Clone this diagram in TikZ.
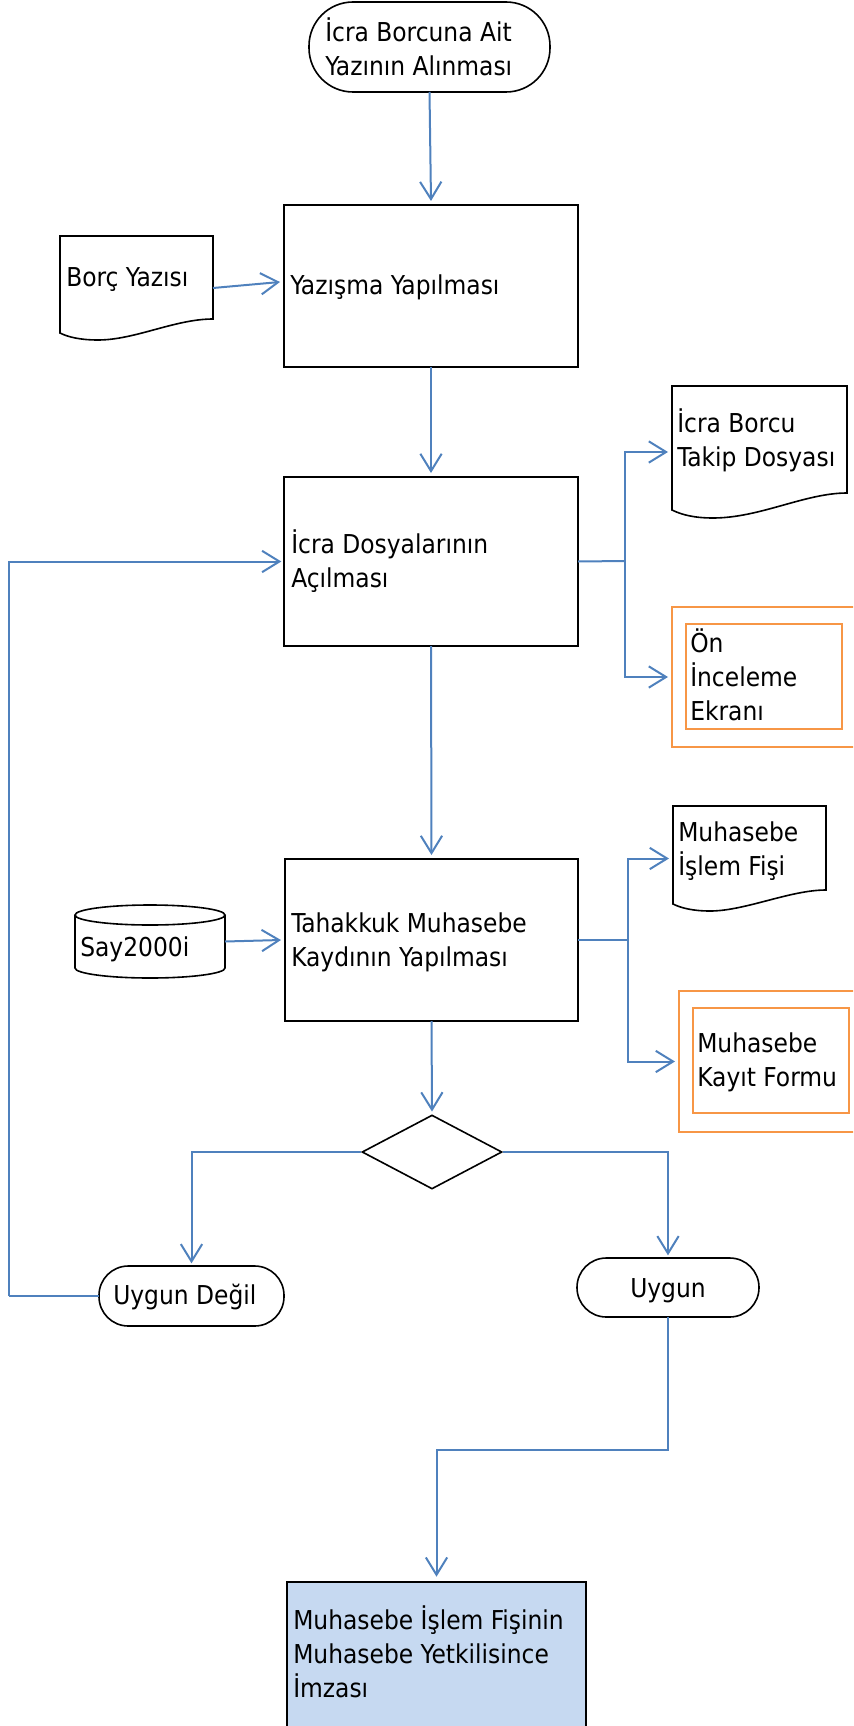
\documentclass[tikz,border=0pt]{standalone}
\usepackage{fontspec}
\setmainfont{DejaVu Sans Condensed}
\usetikzlibrary{arrows.meta,fit,shapes.geometric}
\definecolor{flowblue}{HTML}{4F81BD}
\definecolor{frameorange}{HTML}{F79646}
\definecolor{finfill}{HTML}{C6D9F1}
\begin{document}
\begin{tikzpicture}[x=0.75pt,y=-0.75pt,
  font=\fontsize{19.5pt}{25.5pt}\selectfont,
  box/.style={draw=black, line width=1.2pt, inner sep=0pt, outer sep=0pt},
  hold/.style={inner sep=0pt, outer sep=0pt},
  frame/.style={draw=frameorange, line width=0.9pt},
  docline/.style={draw=black, line width=1.2pt},
  link/.style={draw=flowblue, line width=1.5pt},
  conn/.style={draw=flowblue, line width=1.5pt, -{Straight Barb[length=13pt,width=16pt]}},
  txt/.style={inner sep=0pt, anchor=base west, align=left}]
\useasboundingbox (0,0) rectangle (853,1726);
\clip (0,0) rectangle (853,1726);

% start terminator
\node[box, rounded corners=33pt, fit={(309,2) (550,92)}] (start) {};
\node[txt] (startt) at (325,76) {İcra Borcuna Ait\\Yazının Alınması};

% Yazisma
\node[box, fit={(284,205) (578,367)}] (yaz) {};
\node[txt] (yazt) at (290,295) {Yazışma Yapılması};

% Borc Yazisi document
\draw[docline] (60,236) -- (213,236) -- (213,319) .. controls (175,319) and (135,340) .. (98,340) .. controls (80,340) and (68,337) .. (60,333) -- cycle;
\node[hold, fit={(60,236) (213,340)}] (borc) {};
\node[txt] (borct) at (66,287) {Borç Yazısı};

% Icra dosyalari
\node[box, fit={(284,477) (578,646)}] (icra) {};
\node[txt] (icrat) at (291,587) {İcra Dosyalarının\\Açılması};

% Icra Borcu Takip Dosyasi document
\draw[docline] (672,386) -- (847,386) -- (847,493) .. controls (805,493) and (760,518) .. (713,518) .. controls (695,518) and (682,515) .. (672,510) -- cycle;
\node[hold, fit={(672,386) (847,518)}] (ibd) {};
\node[txt] (ibdt) at (677,466) {İcra Borcu\\Takip Dosyası};

% On Inceleme Ekrani
\node[hold, fit={(672,607) (872,747)}, frame, draw] (onf) {};
\draw[frame] (686,624) rectangle (842,729);
\node[txt] (onft) at (690,720) {Ön\\İnceleme\\Ekranı};

% Tahakkuk
\node[box, fit={(285,859) (578,1021)}] (tah) {};
\node[txt] (taht) at (291,966) {Tahakkuk Muhasebe\\Kaydının Yapılması};

% Say2000i cylinder
\draw[docline] (75,915) -- (75,968) arc[start angle=180, end angle=0, x radius=75, y radius=10] -- (225,915);
\draw[docline] (150,915) ellipse [x radius=75, y radius=10];
\node[hold, fit={(75,905) (225,978)}] (say) {};
\node[txt] (sayt) at (80,956) {Say2000i};

% Muhasebe Islem Fisi document
\draw[docline] (673,806) -- (826,806) -- (826,890) .. controls (790,890) and (745,911) .. (710,911) .. controls (693,911) and (681,908) .. (673,904) -- cycle;
\node[hold, fit={(673,806) (826,911)}] (isl) {};
\node[txt] (islt) at (678,875) {Muhasebe\\İşlem Fişi};

% Muhasebe Kayit Formu
\node[hold, fit={(679,991) (872,1132)}, frame, draw] (kay) {};
\draw[frame] (693,1008) rectangle (849,1113);
\node[txt] (kayt) at (697,1086) {Muhasebe\\Kayıt Formu};

% decision
\node[draw=black, line width=1.2pt, diamond, aspect=1.9, inner sep=0pt, minimum width=105pt, minimum height=55.5pt] (dia) at (432,1152) {};

% Uygun Degil / Uygun
\node[box, rounded corners=22pt, fit={(99,1266) (284,1326)}] (ud) {};
\node[txt] (udt) at (113,1304) {Uygun Değil};
\node[box, rounded corners=22pt, fit={(577,1258) (759,1317)}] (u) {};
\node[inner sep=0pt, anchor=base] (ut) at (668,1297) {Uygun};

% final
\node[box, fill=finfill, fit={(287,1582) (586,1745)}] (fin) {};
\node[txt] (fint) at (293,1697) {Muhasebe İşlem Fişinin\\Muhasebe Yetkilisince\\İmzası};

% connectors
\draw[conn] (start.south) -- ([yshift=3pt]yaz.north);
\draw[conn] (borc.east) -- ([xshift=-3pt,yshift=3pt]yaz.west);
\draw[conn] (yaz.south) -- ([yshift=3pt]icra.north);
\coordinate (j1) at (625,561);
\draw[link] (icra.east) -- (j1);
\draw[conn] (j1) |- ([xshift=-3pt]ibd.west);
\draw[conn] (j1) |- ([xshift=-3pt]onf.west);
\draw[conn] (icra.south) -- ([yshift=3pt]tah.north);
\draw[conn] (say.east) -- ([xshift=-3pt]tah.west);
\coordinate (j2) at (628,940);
\draw[link] (tah.east) -- (j2);
\draw[conn] (j2) |- ([xshift=-3pt]isl.west);
\draw[conn] (j2) |- ([xshift=-3pt]kay.west);
\draw[conn] (tah.south) -- ([yshift=2pt]dia.north);
\draw[conn] (dia.west) -| ([yshift=2pt]ud.north);
\draw[conn] (dia.east) -| ([yshift=2pt]u.north);
\coordinate (lp) at (9,1296);
\draw[link] (ud.west) -- (lp);
\draw[conn] (lp) |- ([xshift=-2pt]icra.west);
\coordinate (uj) at (668,1450);
\draw[conn] (u.south) -- (uj) -| ([yshift=4pt]fin.north);
\end{tikzpicture}
\end{document}
